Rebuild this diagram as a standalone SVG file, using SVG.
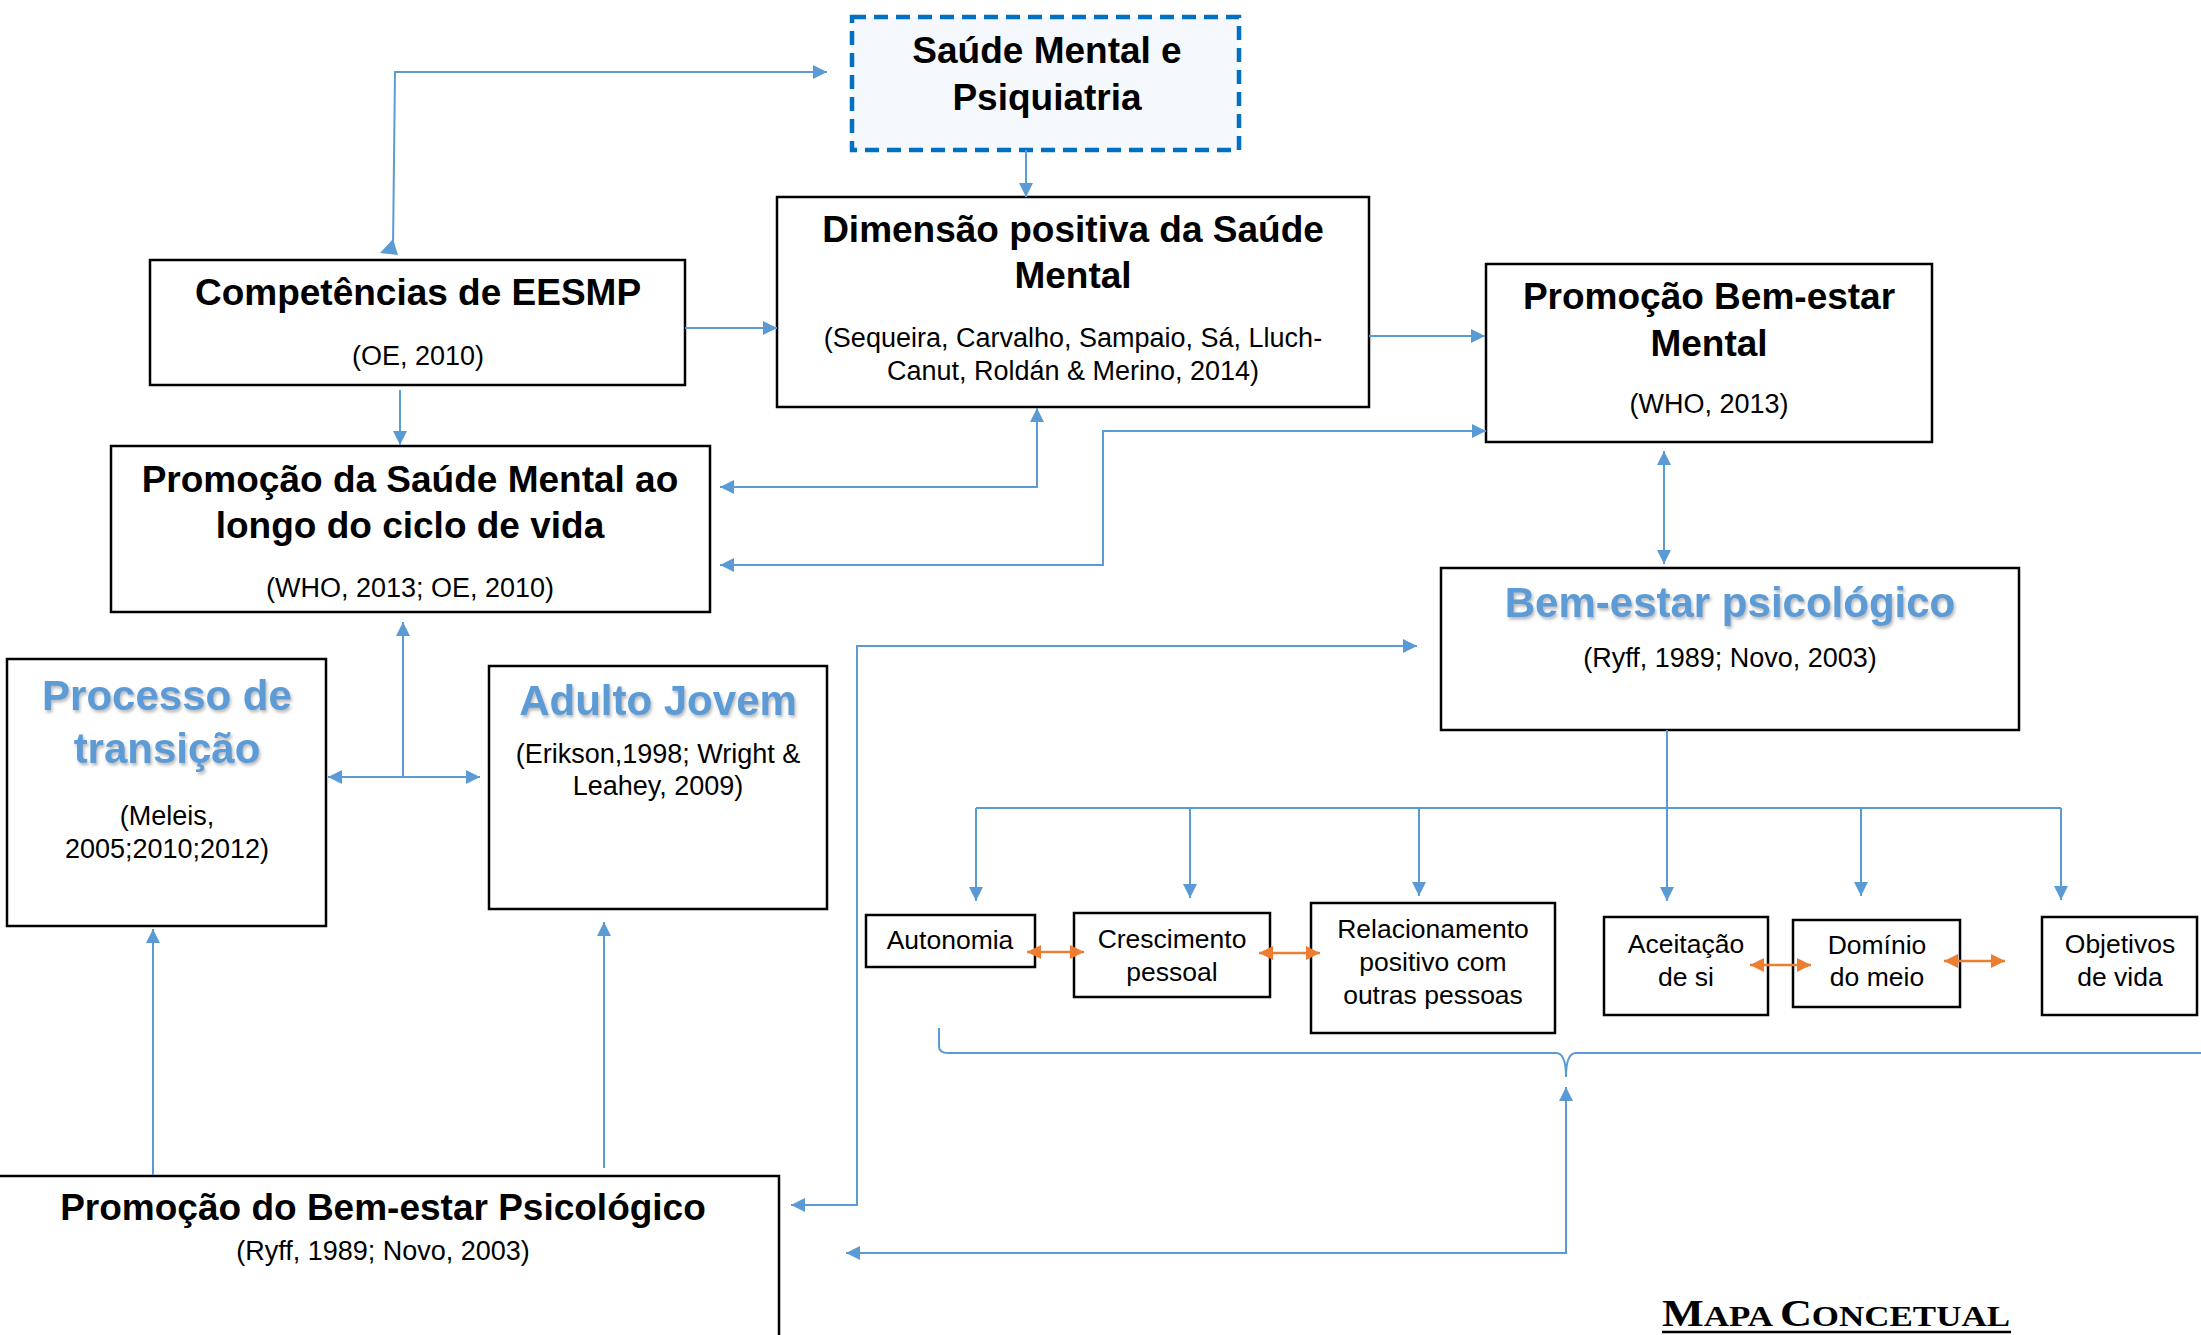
<svg xmlns="http://www.w3.org/2000/svg" width="2201" height="1335" viewBox="0 0 2201 1335">
  <style>
    .box { fill: #ffffff; stroke: #000000; stroke-width: 2.5; }
    .title { font-family: "Liberation Sans", Arial, sans-serif; font-weight: bold; font-size: 37px; fill: #000000; text-anchor: middle; }
    .blue-title { font-family: "Liberation Sans", Arial, sans-serif; font-weight: bold; font-size: 42px; fill: #5B9BD5; text-anchor: middle; filter: url(#soft-shadow); }
    .cite { font-family: "Liberation Sans", Arial, sans-serif; font-size: 27px; fill: #000000; text-anchor: middle; }
    .label { font-family: "Liberation Sans", Arial, sans-serif; font-size: 26.5px; fill: #000000; text-anchor: middle; }
    .link { fill: none; stroke: #5B9BD5; stroke-width: 2; }
    .pair { fill: none; stroke: #ED7D31; stroke-width: 2.5; }
  </style>
  <defs>
    <marker id="arrow" viewBox="0 0 10 10" refX="10" refY="5" markerUnits="userSpaceOnUse" markerWidth="15" markerHeight="14" orient="auto-start-reverse">
      <path d="M0,0 L10,5 L0,10 z" fill="#5B9BD5"/>
    </marker>
    <marker id="arrow-orange" viewBox="0 0 10 10" refX="10" refY="5" markerUnits="userSpaceOnUse" markerWidth="14" markerHeight="15" orient="auto-start-reverse">
      <path d="M0,0 L10,5 L0,10 z" fill="#ED7D31"/>
    </marker>
    <filter id="soft-shadow" x="-10%" y="-20%" width="120%" height="150%">
      <feDropShadow dx="1.5" dy="2.5" stdDeviation="1.8" flood-color="#808080" flood-opacity="0.55"/>
    </filter>
  </defs>

  <rect width="2201" height="1335" fill="#ffffff"/>

  <!-- nodes -->
  <g id="saude-mental">
    <rect x="852" y="17" width="387" height="133" fill="#F5F9FD" stroke="#0070C0" stroke-width="4.5" stroke-dasharray="14 8"/>
    <text class="title" x="1047" y="63">Saúde Mental e</text>
    <text class="title" x="1047" y="110">Psiquiatria</text>
  </g>

  <g id="dimensao-positiva">
    <rect class="box" x="777" y="197" width="592" height="210"/>
    <text class="title" x="1073" y="242">Dimensão positiva da Saúde</text>
    <text class="title" x="1073" y="288">Mental</text>
    <text class="cite" x="1073" y="347">(Sequeira, Carvalho, Sampaio, Sá, Lluch-</text>
    <text class="cite" x="1073" y="380">Canut, Roldán &amp; Merino, 2014)</text>
  </g>

  <g id="competencias">
    <rect class="box" x="150" y="260" width="535" height="125"/>
    <text class="title" x="418" y="305">Competências de EESMP</text>
    <text class="cite" x="418" y="365">(OE, 2010)</text>
  </g>

  <g id="promocao-bem-estar-mental">
    <rect class="box" x="1486" y="264" width="446" height="178"/>
    <text class="title" x="1709" y="309">Promoção Bem-estar</text>
    <text class="title" x="1709" y="356">Mental</text>
    <text class="cite" x="1709" y="413">(WHO, 2013)</text>
  </g>

  <g id="promocao-saude-mental">
    <rect class="box" x="111" y="446" width="599" height="166"/>
    <text class="title" x="410" y="492">Promoção da Saúde Mental ao</text>
    <text class="title" x="410" y="538">longo do ciclo de vida</text>
    <text class="cite" x="410" y="597">(WHO, 2013; OE, 2010)</text>
  </g>

  <g id="bem-estar-psicologico">
    <rect class="box" x="1441" y="568" width="578" height="162"/>
    <text class="blue-title" x="1730" y="617">Bem-estar psicológico</text>
    <text class="cite" x="1730" y="667">(Ryff, 1989; Novo, 2003)</text>
  </g>

  <g id="processo-transicao">
    <rect class="box" x="7" y="659" width="319" height="267"/>
    <text class="blue-title" x="167" y="710">Processo de</text>
    <text class="blue-title" x="167" y="763">transição</text>
    <text class="cite" x="167" y="825">(Meleis,</text>
    <text class="cite" x="167" y="858">2005;2010;2012)</text>
  </g>

  <g id="adulto-jovem">
    <rect class="box" x="489" y="666" width="338" height="243"/>
    <text class="blue-title" x="658" y="715">Adulto Jovem</text>
    <text class="cite" x="658" y="763">(Erikson,1998; Wright &amp;</text>
    <text class="cite" x="658" y="795">Leahey, 2009)</text>
  </g>

  <g id="autonomia">
    <rect class="box" x="866" y="915" width="169" height="52"/>
    <text class="label" x="950" y="949">Autonomia</text>
  </g>

  <g id="crescimento-pessoal">
    <rect class="box" x="1074" y="913" width="196" height="84"/>
    <text class="label" x="1172" y="948">Crescimento</text>
    <text class="label" x="1172" y="981">pessoal</text>
  </g>

  <g id="relacionamento-positivo">
    <rect class="box" x="1311" y="903" width="244" height="130"/>
    <text class="label" x="1433" y="938">Relacionamento</text>
    <text class="label" x="1433" y="971">positivo com</text>
    <text class="label" x="1433" y="1004">outras pessoas</text>
  </g>

  <g id="aceitacao-de-si">
    <rect class="box" x="1604" y="917" width="164" height="98"/>
    <text class="label" x="1686" y="953">Aceitação</text>
    <text class="label" x="1686" y="986">de si</text>
  </g>

  <g id="dominio-do-meio">
    <rect class="box" x="1793" y="920" width="167" height="87"/>
    <text class="label" x="1877" y="954">Domínio</text>
    <text class="label" x="1877" y="986">do meio</text>
  </g>

  <g id="objetivos-de-vida">
    <rect class="box" x="2042" y="917" width="155" height="98"/>
    <text class="label" x="2120" y="953">Objetivos</text>
    <text class="label" x="2120" y="986">de vida</text>
  </g>

  <g id="promocao-bem-estar-psicologico">
    <rect class="box" x="-3" y="1176" width="782" height="170"/>
    <text class="title" x="383" y="1220">Promoção do Bem-estar Psicológico</text>
    <text class="cite" x="383" y="1260">(Ryff, 1989; Novo, 2003)</text>
  </g>

  <!-- connectors, drawn over the boxes so arrowheads stay visible -->
  <g id="connectors">
    <path class="link" d="M393,248 L395,72 L827,72" marker-end="url(#arrow)"/>
    <polygon points="393,239 380,253 398,255" fill="#5B9BD5"/>
    <path class="link" d="M1026,150 L1026,197" marker-end="url(#arrow)"/>
    <path class="link" d="M685,328 L777,328" marker-end="url(#arrow)"/>
    <path class="link" d="M1369,336 L1485,336" marker-end="url(#arrow)"/>
    <path class="link" d="M400,390 L400,445" marker-end="url(#arrow)"/>
    <path class="link" d="M1037,408 L1037,487 L720,487" marker-start="url(#arrow)" marker-end="url(#arrow)"/>
    <path class="link" d="M720,565 L1103,565 L1103,431 L1486,431" marker-start="url(#arrow)" marker-end="url(#arrow)"/>
    <path class="link" d="M1664,451 L1664,564" marker-start="url(#arrow)" marker-end="url(#arrow)"/>
    <path class="link" d="M403,622 L403,777" marker-start="url(#arrow)"/>
    <path class="link" d="M328,777 L480,777" marker-start="url(#arrow)" marker-end="url(#arrow)"/>
    <path class="link" d="M153,1175 L153,929" marker-end="url(#arrow)"/>
    <path class="link" d="M604,1168 L604,922" marker-end="url(#arrow)"/>
    <path class="link" d="M1417,646 L857,646 L857,1205 L791,1205" marker-start="url(#arrow)" marker-end="url(#arrow)"/>
    <!-- branches to the six dimensions -->
    <path class="link" d="M1667,730 L1667,808"/>
    <path class="link" d="M976,808 L2061,808"/>
    <path class="link" d="M976,808 L976,901" marker-end="url(#arrow)"/>
    <path class="link" d="M1190,808 L1190,898" marker-end="url(#arrow)"/>
    <path class="link" d="M1419,808 L1419,896" marker-end="url(#arrow)"/>
    <path class="link" d="M1667,808 L1667,901" marker-end="url(#arrow)"/>
    <path class="link" d="M1861,808 L1861,896" marker-end="url(#arrow)"/>
    <path class="link" d="M2061,808 L2061,900" marker-end="url(#arrow)"/>
    <!-- brace under the dimensions -->
    <path class="link" d="M939,1028 L939,1046 Q939,1053 948,1053 L1556,1053 Q1566,1053 1566,1077 Q1566,1053 1576,1053 L2205,1053"/>
    <path class="link" d="M1566,1087 L1566,1253 L846,1253" marker-start="url(#arrow)" marker-end="url(#arrow)"/>
    <!-- links between dimensions -->
    <path class="pair" d="M1027,952 L1084,952" marker-start="url(#arrow-orange)" marker-end="url(#arrow-orange)"/>
    <path class="pair" d="M1259,953 L1320,953" marker-start="url(#arrow-orange)" marker-end="url(#arrow-orange)"/>
    <path class="pair" d="M1750,965 L1811,965" marker-start="url(#arrow-orange)" marker-end="url(#arrow-orange)"/>
    <path class="pair" d="M1944,961 L2005,961" marker-start="url(#arrow-orange)" marker-end="url(#arrow-orange)"/>
  </g>

  <g id="caption">
    <text x="1662" y="1326" font-family="'Liberation Serif', 'Times New Roman', serif" font-weight="bold" fill="#000000" textLength="348" lengthAdjust="spacingAndGlyphs"><tspan font-size="38">M</tspan><tspan font-size="30">APA </tspan><tspan font-size="38">C</tspan><tspan font-size="30">ONCETUAL</tspan></text>
    <line x1="1662" y1="1332" x2="2011" y2="1332" stroke="#000000" stroke-width="2.5"/>
  </g>
</svg>
